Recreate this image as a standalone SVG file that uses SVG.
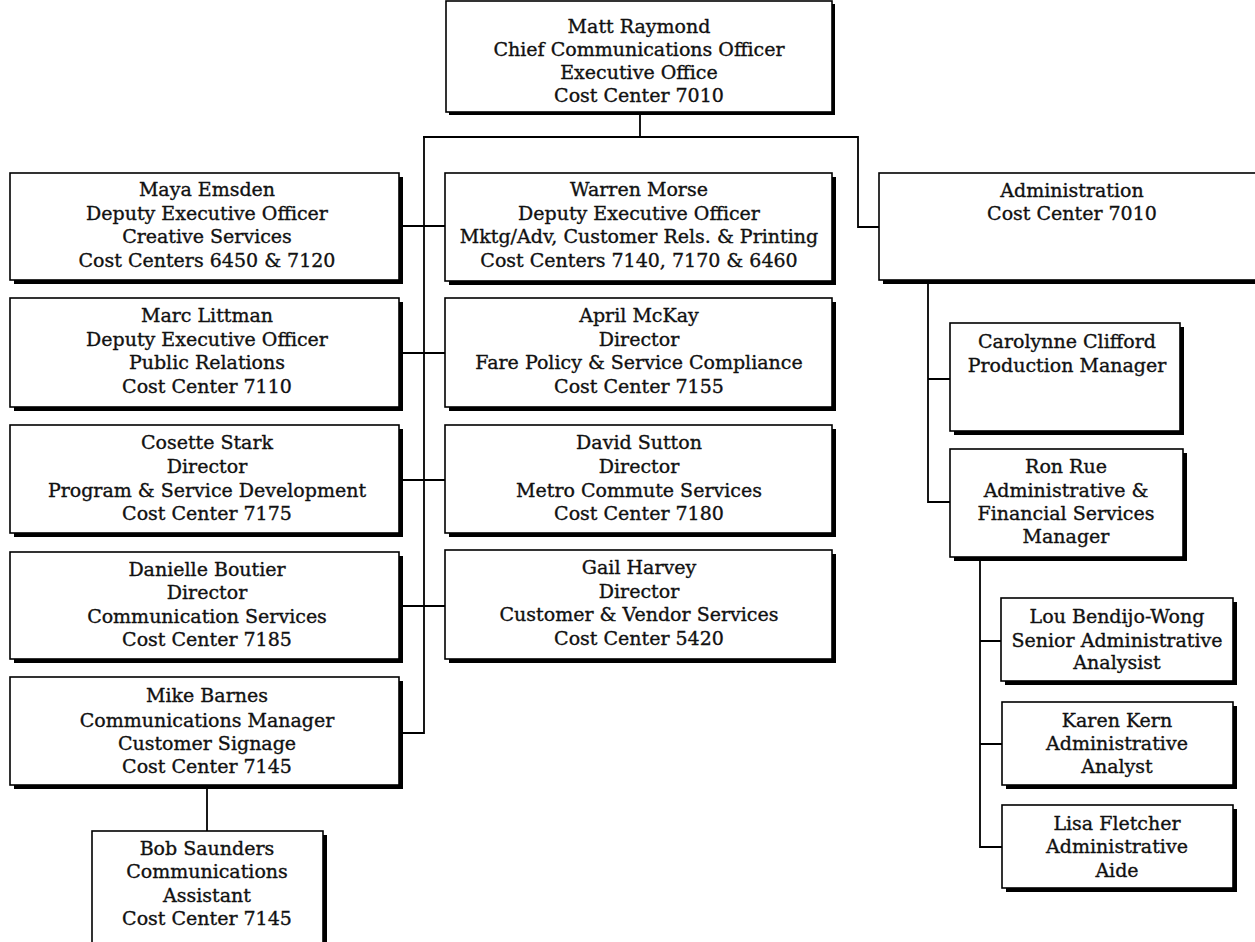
<svg xmlns="http://www.w3.org/2000/svg" width="1255" height="942" viewBox="0 0 1255 942">
<defs>
<style>
.sh{fill:#000}
.bx{fill:#fff;stroke:#000;stroke-width:1.6}
text{font-family:"DejaVu Serif","Liberation Serif",serif;font-size:19px;fill:#111;stroke:#111;stroke-width:0.35;text-anchor:middle}
.cn{fill:none;stroke:#000;stroke-width:1.8}
</style>
</defs>
<rect width="1255" height="942" fill="#fff"/>
<g id="connectors" class="cn">
<path d="M640 114V137M423 137H858V227H879"/>
<path d="M424 137V733H401"/>
<path d="M401 226H445M401 353H445M401 480H445M401 606H445"/>
<path d="M207 786V831"/>
<path d="M928 281V502H950M928 379H950"/>
<path d="M980 558V847H1002M980 641H1001M980 744H1002"/>
</g>
<g id="matt">
<rect class="sh" x="449" y="4" width="386" height="111"/>
<rect class="bx" x="446" y="1" width="386" height="111"/>
<text x="639" y="33">Matt Raymond</text>
<text x="639" y="56">Chief Communications Officer</text>
<text x="639" y="79">Executive Office</text>
<text x="639" y="102">Cost Center 7010</text>
</g>
<g id="maya">
<rect class="sh" x="14" y="177" width="389" height="107"/>
<rect class="bx" x="10" y="173" width="389" height="107"/>
<text x="207" y="196">Maya Emsden</text>
<text x="207" y="220">Deputy Executive Officer</text>
<text x="207" y="243">Creative Services</text>
<text x="207" y="267">Cost Centers 6450 &amp; 7120</text>
</g>
<g id="marc">
<rect class="sh" x="14" y="302" width="389" height="109"/>
<rect class="bx" x="10" y="298" width="389" height="109"/>
<text x="207" y="322">Marc Littman</text>
<text x="207" y="346">Deputy Executive Officer</text>
<text x="207" y="369">Public Relations</text>
<text x="207" y="393">Cost Center 7110</text>
</g>
<g id="cosette">
<rect class="sh" x="14" y="429" width="389" height="108"/>
<rect class="bx" x="10" y="425" width="389" height="108"/>
<text x="207" y="449">Cosette Stark</text>
<text x="207" y="473">Director</text>
<text x="207" y="497">Program &amp; Service Development</text>
<text x="207" y="520">Cost Center 7175</text>
</g>
<g id="danielle">
<rect class="sh" x="14" y="556" width="389" height="107"/>
<rect class="bx" x="10" y="552" width="389" height="107"/>
<text x="207" y="576">Danielle Boutier</text>
<text x="207" y="599">Director</text>
<text x="207" y="623">Communication Services</text>
<text x="207" y="646">Cost Center 7185</text>
</g>
<g id="mike">
<rect class="sh" x="14" y="681" width="389" height="108"/>
<rect class="bx" x="10" y="677" width="389" height="108"/>
<text x="207" y="702">Mike Barnes</text>
<text x="207" y="727">Communications Manager</text>
<text x="207" y="750">Customer Signage</text>
<text x="207" y="773">Cost Center 7145</text>
</g>
<g id="bob">
<rect class="sh" x="96" y="835" width="231" height="120"/>
<rect class="bx" x="92" y="831" width="231" height="120"/>
<text x="207" y="855">Bob Saunders</text>
<text x="207" y="878">Communications</text>
<text x="207" y="902">Assistant</text>
<text x="207" y="925">Cost Center 7145</text>
</g>
<g id="warren">
<rect class="sh" x="449" y="177" width="387" height="108"/>
<rect class="bx" x="445" y="173" width="387" height="108"/>
<text x="639" y="196">Warren Morse</text>
<text x="639" y="220">Deputy Executive Officer</text>
<text x="639" y="243">Mktg/Adv, Customer Rels. &amp; Printing</text>
<text x="639" y="267">Cost Centers 7140, 7170 &amp; 6460</text>
</g>
<g id="april">
<rect class="sh" x="449" y="302" width="387" height="109"/>
<rect class="bx" x="445" y="298" width="387" height="109"/>
<text x="639" y="322">April McKay</text>
<text x="639" y="346">Director</text>
<text x="639" y="369">Fare Policy &amp; Service Compliance</text>
<text x="639" y="393">Cost Center 7155</text>
</g>
<g id="david">
<rect class="sh" x="449" y="429" width="387" height="108"/>
<rect class="bx" x="445" y="425" width="387" height="108"/>
<text x="639" y="449">David Sutton</text>
<text x="639" y="473">Director</text>
<text x="639" y="497">Metro Commute Services</text>
<text x="639" y="520">Cost Center 7180</text>
</g>
<g id="gail">
<rect class="sh" x="449" y="554" width="387" height="109"/>
<rect class="bx" x="445" y="550" width="387" height="109"/>
<text x="639" y="574">Gail Harvey</text>
<text x="639" y="598">Director</text>
<text x="639" y="621">Customer &amp; Vendor Services</text>
<text x="639" y="645">Cost Center 5420</text>
</g>
<g id="admin">
<rect class="sh" x="883" y="177" width="390" height="107"/>
<rect class="bx" x="879" y="173" width="390" height="107"/>
<text x="1072" y="197">Administration</text>
<text x="1072" y="220">Cost Center 7010</text>
</g>
<g id="carolynne">
<rect class="sh" x="954" y="327" width="230" height="108"/>
<rect class="bx" x="950" y="323" width="230" height="108"/>
<text x="1067" y="348">Carolynne Clifford</text>
<text x="1067" y="372">Production Manager</text>
</g>
<g id="ron">
<rect class="sh" x="954" y="453" width="233" height="108"/>
<rect class="bx" x="950" y="449" width="233" height="108"/>
<text x="1066" y="473">Ron Rue</text>
<text x="1066" y="497">Administrative &amp;</text>
<text x="1066" y="520">Financial Services</text>
<text x="1066" y="543">Manager</text>
</g>
<g id="lou">
<rect class="sh" x="1005" y="602" width="232" height="83"/>
<rect class="bx" x="1001" y="598" width="232" height="83"/>
<text x="1117" y="623">Lou Bendijo-Wong</text>
<text x="1117" y="647">Senior Administrative</text>
<text x="1117" y="669">Analysist</text>
</g>
<g id="karen">
<rect class="sh" x="1006" y="706" width="231" height="83"/>
<rect class="bx" x="1002" y="702" width="231" height="83"/>
<text x="1117" y="727">Karen Kern</text>
<text x="1117" y="750">Administrative</text>
<text x="1117" y="773">Analyst</text>
</g>
<g id="lisa">
<rect class="sh" x="1006" y="809" width="231" height="83"/>
<rect class="bx" x="1002" y="805" width="231" height="83"/>
<text x="1117" y="830">Lisa Fletcher</text>
<text x="1117" y="853">Administrative</text>
<text x="1117" y="877">Aide</text>
</g>
</svg>
